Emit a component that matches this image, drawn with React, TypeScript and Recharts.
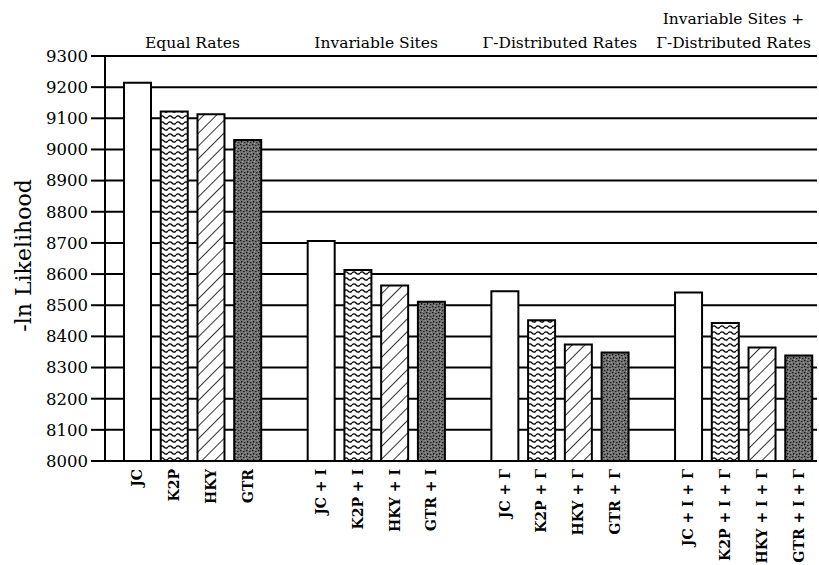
import React from "react";
import {
  BarChart,
  Bar,
  XAxis,
  YAxis,
  CartesianGrid,
  Cell,
  ReferenceArea,
  Label,
} from "recharts";

// model families, one bar each inside every rate group
const models = ["JC", "K2P", "HKY", "GTR"];
const groupSuffixes = ["", " + I", " + Γ", " + I + Γ"];
const groupTitles = [
  ["Equal Rates"],
  ["Invariable Sites"],
  ["Γ-Distributed Rates"],
  ["Invariable Sites +", "Γ-Distributed Rates"],
];

// -ln likelihood
const equalRates = [9214, 9122, 9113, 9030];
const invariableSites = [8706, 8613, 8563, 8511];
const gammaRates = [8545, 8452, 8374, 8348];
const invariableGamma = [8541, 8443, 8364, 8339];

const yTicks = [
  8000, 8100, 8200, 8300, 8400, 8500, 8600, 8700, 8800, 8900, 9000, 9100, 9200, 9300,
];

const groups = [equalRates, invariableSites, gammaRates, invariableGamma];

// build the category table, with an empty slot between groups
const data: { name: string; label: string; value: number | null; model: number }[] = [];
groups.forEach((values, g) => {
  values.forEach((v, m) => {
    const name = models[m] + groupSuffixes[g];
    data.push({ name, label: name, value: v, model: m });
  });
  if (g < groups.length - 1) data.push({ name: `gap-${g}`, label: "", value: null, model: -1 });
});

const FONT = "'DejaVu Serif', serif";
const fills = ["#ffffff", "url(#wavy)", "url(#hatch)", "url(#stipple)"];
const titleShift = [0, 0, 0, -10];

function XTick({ x, y, payload }: any) {
  const row = data[payload.index];
  const text = row ? row.label : "";
  return (
    <text
      x={x}
      y={y}
      transform={`rotate(-90, ${x}, ${y})`}
      textAnchor="end"
      dominantBaseline="central"
      fontFamily={FONT}
      fontSize={14}
      fontWeight="bold"
      fill="#000"
    >
      {text}
    </text>
  );
}

function GroupTitle({ viewBox, lines, shift }: any) {
  const cx = viewBox.x + viewBox.width / 2 + shift;
  const base = viewBox.y - 8;
  return (
    <g>
      {lines.map((t: string, i: number) => (
        <text
          key={i}
          x={cx}
          y={base - (lines.length - 1 - i) * 24}
          textAnchor="middle"
          fontFamily={FONT}
          fontSize={15.5}
          fill="#000"
        >
          {t}
        </text>
      ))}
    </g>
  );
}

function YTitle({ viewBox }: any) {
  const cy = viewBox.y + viewBox.height / 2 - 3;
  const x = 23;
  return (
    <text
      x={x}
      y={cy}
      transform={`rotate(-90, ${x}, ${cy})`}
      textAnchor="middle"
      dominantBaseline="central"
      fontFamily={FONT}
      fontSize={22}
      fill="#000"
    >
      -ln Likelihood
    </text>
  );
}

export default function App() {
  return (
    <div style={{ position: "absolute", left: 0, top: 0, background: "#fff" }}>
      <BarChart
        width={819}
        height={565}
        data={data}
        margin={{ top: 56, right: 2, left: 0, bottom: 0 }}
      >
        <defs>
          <pattern id="wavy" patternUnits="userSpaceOnUse" width="8" height="6">
            <rect width="8" height="6" fill="#fff" />
            <path
              d="M0 3 Q2 0.6 4 3 T8 3"
              fill="none"
              stroke="#000"
              strokeWidth="1.3"
            />
          </pattern>
          <pattern
            id="hatch"
            patternUnits="userSpaceOnUse"
            width="9"
            height="9"
            patternTransform="rotate(45)"
          >
            <rect width="9" height="9" fill="#fff" />
            <line x1="0" y1="0" x2="0" y2="9" stroke="#000" strokeWidth="1.6" />
          </pattern>
          <pattern id="stipple" patternUnits="userSpaceOnUse" width="6" height="6">
            <rect width="6" height="6" fill="#747474" />
            <rect x="0" y="0" width="1.4" height="1.2" fill="#111" />
            <rect x="3" y="1" width="1.6" height="1" fill="#222" />
            <rect x="1" y="3" width="1.2" height="1.6" fill="#111" />
            <rect x="4" y="4" width="1.4" height="1.2" fill="#222" />
            <rect x="2" y="5" width="1" height="1" fill="#aaa" />
            <rect x="5" y="2" width="1" height="1" fill="#999" />
          </pattern>
        </defs>
        <CartesianGrid vertical={false} stroke="#000" strokeWidth={2} />
        <XAxis
          dataKey="name"
          interval={0}
          tickLine={false}
          tickSize={0}
          tickMargin={8}
          axisLine={{ stroke: "#000", strokeWidth: 2 }}
          height={104}
          padding={{ left: 14, right: 0 }}
          tick={<XTick />}
        />
        <YAxis
          domain={[8000, 9300]}
          ticks={yTicks}
          interval={0}
          width={105}
          tickSize={14}
          tickMargin={3}
          tick={{ fontFamily: FONT, fontSize: 16.5, fill: "#000" }}
          tickLine={{ stroke: "#000", strokeWidth: 2 }}
          axisLine={{ stroke: "#000", strokeWidth: 2 }}
        >
          <Label content={<YTitle />} />
        </YAxis>
        <YAxis
          yAxisId="right"
          orientation="right"
          domain={[8000, 9300]}
          width={0}
          tick={false}
          tickLine={false}
          axisLine={{ stroke: "#000", strokeWidth: 2 }}
        />
        {groups.map((_, g) => (
          <ReferenceArea
            key={g}
            x1={models[0] + groupSuffixes[g]}
            x2={models[models.length - 1] + groupSuffixes[g]}
            fill="none"
            fillOpacity={0}
            stroke="none"
            label={(props: any) => (
              <GroupTitle {...props} lines={groupTitles[g]} shift={titleShift[g]} />
            )}
          />
        ))}
        <Bar
          dataKey="value"
          barSize={27}
          stroke="#000"
          strokeWidth={2}
          isAnimationActive={false}
        >
          {data.map((d, i) => (
            <Cell key={i} fill={d.model >= 0 ? fills[d.model] : "none"} />
          ))}
        </Bar>
      </BarChart>
    </div>
  );
}
